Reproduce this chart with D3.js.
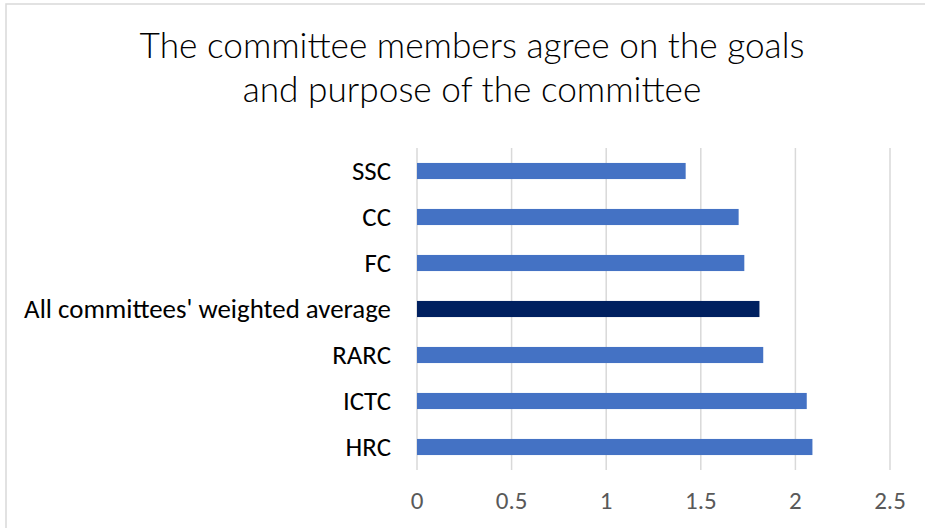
<!DOCTYPE html>
<html>
<head>
<meta charset="utf-8">
<script src="https://cdn.jsdelivr.net/npm/d3@7.9.0/dist/d3.min.js"></script>
<style>
  body { margin: 0; background: #fff; }
  svg { display: block; font-family: Carlito, Lato, sans-serif; }
</style>
</head>
<body>
<svg id="chart" width="925" height="528"></svg>
<script>
const categories = ["SSC", "CC", "FC", "All committees' weighted average", "RARC", "ICTC", "HRC"];
const values = [1.42, 1.70, 1.73, 1.81, 1.83, 2.06, 2.09];
const ticks = [0, 0.5, 1, 1.5, 2, 2.5];
const titleLines = ["The committee members agree on the goals", "and purpose of the committee"];

const svg = d3.select("#chart");

// chart border
svg.append("rect")
  .attr("x", 6).attr("y", 4)
  .attr("width", 925).attr("height", 528)
  .attr("fill", "none")
  .attr("stroke", "#d9d9d9")
  .attr("stroke-width", 1.5);

const x = d3.scaleLinear().domain([0, 2.5]).range([417, 890]);
const y = d3.scaleBand().domain(categories).range([148, 470])
  .paddingInner(0.65).paddingOuter(0.325);

// fit a text element's font size to a target width
function fit(sel, target) {
  const w = sel.node().getComputedTextLength();
  const fs = parseFloat(sel.attr("font-size"));
  sel.attr("font-size", fs * target / w);
  return fs * target / w;
}

// title (light weight, like Calibri Light)
const title = svg.append("text")
  .attr("text-anchor", "middle")
  .attr("font-family", "Lato, Carlito, sans-serif")
  .attr("font-weight", 300)
  .attr("fill", "#000");
title.selectAll("tspan")
  .data(titleLines)
  .join("tspan")
  .attr("x", 472)
  .attr("y", (d, i) => 58 + i * 44)
  .text(d => d);
title.attr("font-size", 30);
{
  const first = title.select("tspan").node();
  const w = first.getComputedTextLength();
  title.attr("font-size", 30 * 665 / w);
}

// gridlines
svg.append("g")
  .selectAll("line")
  .data(ticks)
  .join("line")
  .attr("x1", d => x(d)).attr("x2", d => x(d))
  .attr("y1", 148).attr("y2", 470)
  .attr("stroke", "#d9d9d9")
  .attr("stroke-width", 1.5);

// bars
svg.append("g")
  .selectAll("rect")
  .data(categories)
  .join("rect")
  .attr("x", x(0))
  .attr("y", d => y(d))
  .attr("width", (d, i) => x(values[i]) - x(0))
  .attr("height", y.bandwidth())
  .attr("fill", d => d.startsWith("All") ? "#002060" : "#4472c4");

// category labels
const labels = svg.append("g")
  .selectAll("text")
  .data(categories)
  .join("text")
  .attr("x", 391)
  .attr("y", d => y(d) + y.bandwidth() / 2)
  .attr("dy", "0.34em")
  .attr("text-anchor", "end")
  .attr("font-size", 20)
  .attr("fill", "#000")
  .text(d => d);
let labelSize = 20;
{
  const longest = labels.filter(d => d.startsWith("All"));
  labelSize = fit(longest, 367);
  labels.attr("font-size", labelSize);
}

// x tick labels
svg.append("g")
  .selectAll("text")
  .data(ticks)
  .join("text")
  .attr("x", d => x(d))
  .attr("y", 509)
  .attr("text-anchor", "middle")
  .attr("font-size", labelSize * 0.93)
  .attr("fill", "#595959")
  .text(d => d);
</script>
</body>
</html>
